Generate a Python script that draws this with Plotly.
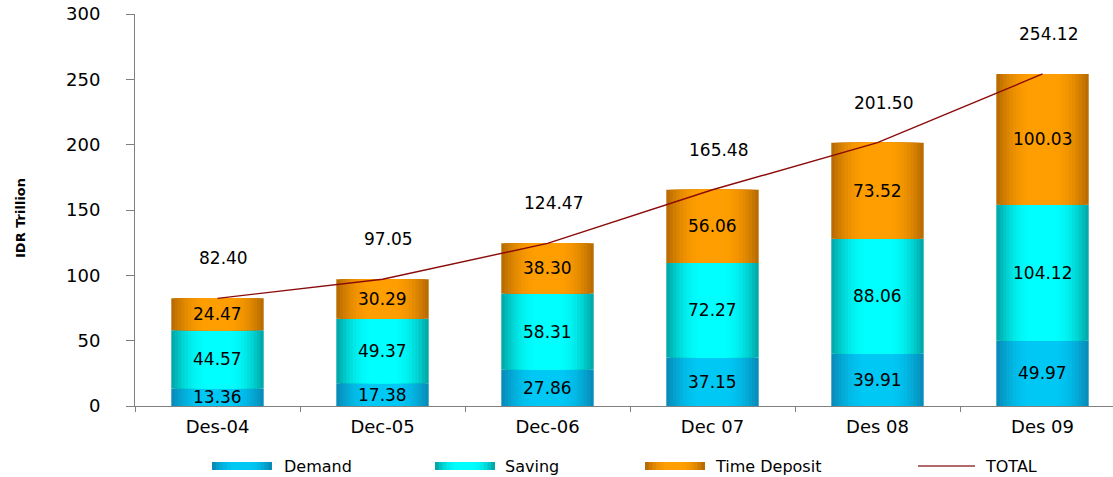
import plotly.graph_objects as go

categories = ["Des-04", "Dec-05", "Dec-06", "Dec 07", "Des 08", "Des 09"]
demand = [13.36, 17.38, 27.86, 37.15, 39.91, 49.97]
saving = [44.57, 49.37, 58.31, 72.27, 88.06, 104.12]
time_deposit = [24.47, 30.29, 38.30, 56.06, 73.52, 100.03]
total = [82.40, 97.05, 124.47, 165.48, 201.50, 254.12]

series_names = ["Demand", "Saving", "Time Deposit"]
series_values = [demand, saving, time_deposit]
edge_colors = [(8, 140, 185), (0, 170, 170), (185, 108, 0)]
center_colors = [(0, 200, 245), (0, 255, 255), (255, 158, 0)]
line_color = "#8B0A0A"

FONT = "DejaVu Sans"
W = 0.56
N = 14

# plot geometry (pixels)
L_MARGIN, R_MARGIN, T_MARGIN, B_MARGIN = 135, 0, 14, 71
FIG_W, FIG_H = 1113, 477
PLOT_W = FIG_W - L_MARGIN - R_MARGIN
PLOT_H = FIG_H - T_MARGIN - B_MARGIN
CAT_PX = 165


def px_x(px):
    return (px - L_MARGIN) / PLOT_W


def px_y(py):
    return (FIG_H - B_MARGIN - py) / PLOT_H


def mix(a, b, t):
    return "rgb(%d,%d,%d)" % tuple(round(a[i] + (b[i] - a[i]) * t) for i in range(3))


fig = go.Figure()

bases = [0.0] * len(categories)
for name, vals, ec, cc in zip(series_names, series_values, edge_colors, center_colors):
    base = list(bases)
    for k in range(N):
        frac = k / N
        w = W * (1 - frac)
        t = min(1.0, frac / 0.75)
        t = 1 - (1 - t) ** 2
        fig.add_trace(go.Bar(
            x=categories, y=vals, base=base, width=w, offset=-w / 2,
            marker=dict(color=mix(ec, cc, t), line=dict(width=0)),
            showlegend=False, hoverinfo="skip" if k else None, name=name,
        ))
    for i, v in enumerate(vals):
        fig.add_annotation(x=categories[i], y=base[i] + v / 2, text="%.2f" % v,
                           showarrow=False, font=dict(family=FONT, size=17, color="black"))
    bases = [b + v for b, v in zip(bases, vals)]

fig.add_trace(go.Scatter(x=categories, y=total, mode="lines", name="TOTAL",
                         line=dict(color=line_color, width=1.4), showlegend=False))
for i, v in enumerate(total):
    fig.add_annotation(x=categories[i], y=v, text="%.2f" % v, showarrow=False,
                       yshift=40, xshift=6, font=dict(family=FONT, size=17, color="black"))

# y-axis title
fig.add_annotation(xref="paper", yref="paper", x=px_x(20), y=px_y(218), text="<b>IDR Trillion</b>",
                   textangle=-90, showarrow=False, xanchor="center", yanchor="middle",
                   font=dict(family=FONT, size=13, color="black"))

# manual legend
leg_y = 466
swatches = [(212, 272, 282), (435, 495, 503), (645, 705, 713)]
for (x0, x1, tx), name, ec, cc in zip(swatches, series_names, edge_colors, center_colors):
    M = 8
    for k in range(M):
        frac = k / M
        half = (x1 - x0) / 2 * (1 - frac)
        mid = (x0 + x1) / 2
        t = min(1.0, frac / 0.75)
        t = 1 - (1 - t) ** 2
        fig.add_shape(type="rect", xref="paper", yref="paper",
                      x0=px_x(mid - half), x1=px_x(mid + half),
                      y0=px_y(leg_y + 4), y1=px_y(leg_y - 4),
                      fillcolor=mix(ec, cc, t), line=dict(width=0), layer="above")
    fig.add_annotation(xref="paper", yref="paper", x=px_x(tx), y=px_y(leg_y), xanchor="left",
                       yanchor="middle", text=name, showarrow=False,
                       font=dict(family=FONT, size=16, color="black"))
fig.add_shape(type="line", xref="paper", yref="paper", x0=px_x(918), x1=px_x(975),
              y0=px_y(leg_y), y1=px_y(leg_y), line=dict(color="#B06A6A", width=2))
fig.add_annotation(xref="paper", yref="paper", x=px_x(983), y=px_y(leg_y), xanchor="left",
                   yanchor="middle", text="TOTAL", showarrow=False,
                   font=dict(family=FONT, size=16, color="black"))

fig.update_layout(
    width=FIG_W, height=FIG_H,
    margin=dict(l=L_MARGIN, r=R_MARGIN, t=T_MARGIN, b=B_MARGIN, pad=0),
    paper_bgcolor="white", plot_bgcolor="white",
    barmode="overlay", showlegend=False,
    xaxis=dict(type="category", range=[-0.5, -0.5 + PLOT_W / CAT_PX],
               showline=True, linecolor="#808080", linewidth=1,
               ticks="outside", tickson="boundaries", ticklen=5, tickcolor="#808080",
               showgrid=False, zeroline=False,
               tickfont=dict(family=FONT, size=18, color="black"), ticklabelstandoff=4),
    yaxis=dict(range=[0, 300], dtick=50, showline=True, linecolor="#808080", linewidth=1,
               ticks="outside", ticklen=8, tickcolor="#808080", showgrid=False, zeroline=False,
               tickfont=dict(family=FONT, size=18, color="black"), ticklabelstandoff=22),
)

fig.write_html("out.html")
